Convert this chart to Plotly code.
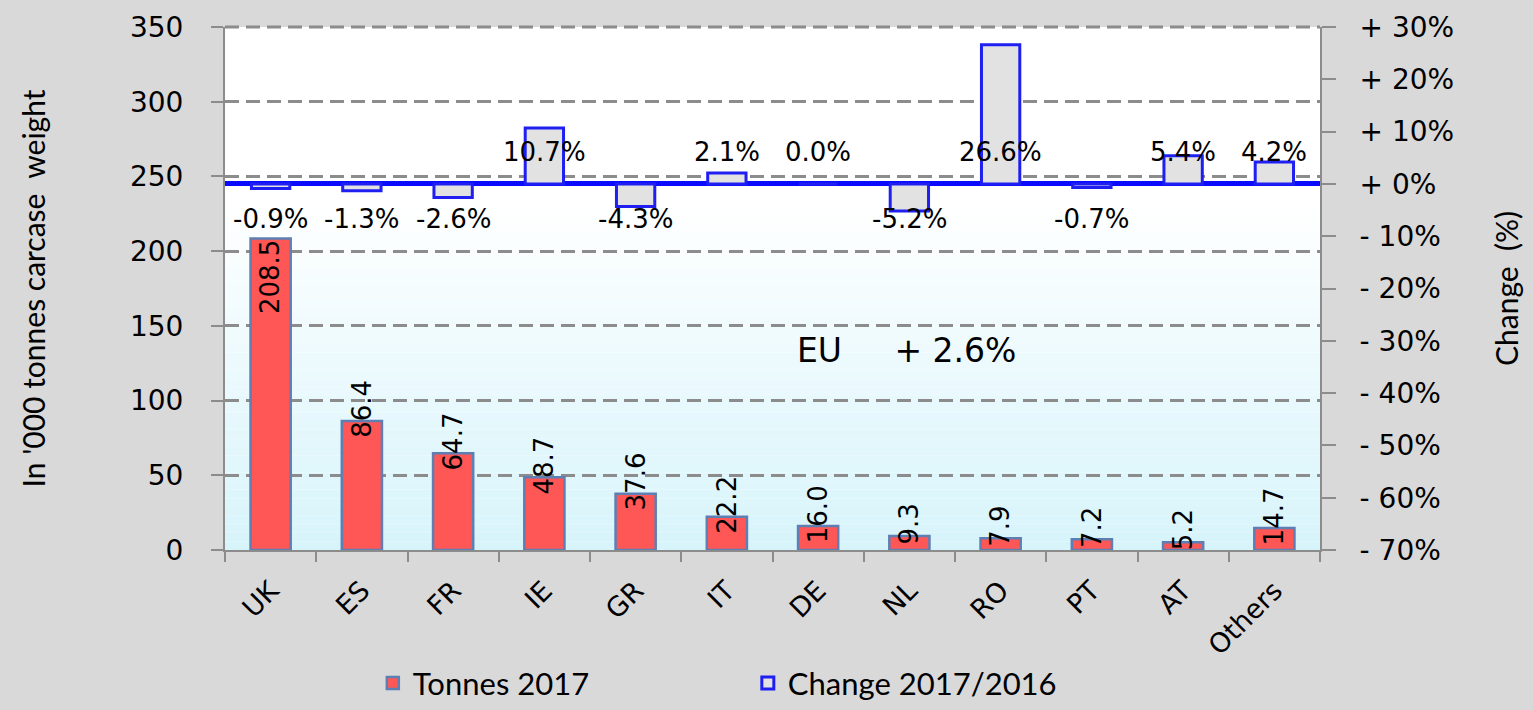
import plotly.graph_objects as go

# ---- data ----
countries = ["UK", "ES", "FR", "IE", "GR", "IT", "DE", "NL", "RO", "PT", "AT", "Others"]
tonnes_2017 = [208.5, 86.4, 64.7, 48.7, 37.6, 22.2, 16.0, 9.3, 7.9, 7.2, 5.2, 14.7]
change_pct = [-0.9, -1.3, -2.6, 10.7, -4.3, 2.1, 0.0, -5.2, 26.6, -0.7, 5.4, 4.2]
eu_label = "EU"
eu_change = 2.6
left_ticks = [0, 50, 100, 150, 200, 250, 300, 350]
right_ticks = [30, 20, 10, 0, -10, -20, -30, -40, -50, -60, -70]

def fmt_right(v):
    return f"+ {v}%" if v >= 0 else f"- {abs(v)}%"

right_ticktext = [fmt_right(v) for v in right_ticks]

FONT = "DejaVu Sans"
TITLE_FONT = "Lato"
GRID = "#8c8c8c"

fig = go.Figure()

fig.add_trace(go.Bar(
    x=countries, y=tonnes_2017, name="Tonnes 2017", yaxis="y",
    width=0.44,
    marker=dict(color="#ff5656", line=dict(color="#5d7fb3", width=2.5)),
    hoverinfo="x+y",
))
fig.add_trace(go.Bar(
    x=countries, y=change_pct, name="Change 2017/2016", yaxis="y2",
    width=0.42,
    marker=dict(color="#e2e2e2", line=dict(color="#1f1ff2", width=3)),
    hoverinfo="x+y",
))

annotations = []
# tonnes labels (rotated)
for c, v in zip(countries, tonnes_2017):
    if v > 150:
        annotations.append(dict(x=c, y=v, xref="x", yref="y", text=f"{v:.1f}",
                                 textangle=-90, showarrow=False, yanchor="top", yshift=0,
                                 font=dict(family=FONT, size=26, color="#000")))
    else:
        annotations.append(dict(x=c, y=v, xref="x", yref="y", text=f"{v:.1f}",
                                 textangle=-90, showarrow=False, yanchor="middle", yshift=12,
                                 font=dict(family=FONT, size=26, color="#000")))
# change labels
for c, v in zip(countries, change_pct):
    annotations.append(dict(x=c, y=0, xref="x", yref="y2", text=f"{v:.1f}%",
                             showarrow=False, yanchor="middle",
                             yshift=32 if v >= 0 else -35,
                             font=dict(family=FONT, size=26, color="#000")))
# EU total
annotations.append(dict(x=0.622, y=0.382, xref="paper", yref="paper",
                        text=f"{eu_label}" + "&nbsp;" * 5 + f"+ {eu_change}%", showarrow=False,
                        font=dict(family=FONT, size=33, color="#000")))

# gradient plot background (style only)
shapes = []
n = 40
top_c = (255, 255, 255)
bot_c = (214, 244, 251)
g_top = 230.0
for i in range(n):
    y0 = g_top * i / n
    y1 = g_top * (i + 1) / n
    t = 1 - (i + 0.5) / n
    col = tuple(round(top_c[k] + (bot_c[k] - top_c[k]) * t) for k in range(3))
    shapes.append(dict(type="rect", xref="paper", yref="y", x0=0, x1=1, y0=y0, y1=y1,
                       fillcolor=f"rgb{col}", line=dict(width=0), layer="below"))
# top dashed border (gridline at the top of the range)
shapes.append(dict(type="line", xref="paper", yref="paper", x0=0, x1=1, y0=1, y1=1,
                   line=dict(color=GRID, width=3, dash="14px,7px"), layer="below"))

fig.update_layout(
    width=1533, height=710,
    margin=dict(l=225, r=213, t=27, b=160, autoexpand=False),
    paper_bgcolor="#d9d9d9",
    plot_bgcolor="#ffffff",
    barmode="overlay",
    showlegend=True,
    legend=dict(orientation="h", x=0.135, y=-0.255, xanchor="left", yanchor="middle",
                font=dict(family=TITLE_FONT, size=31, color="#000"),
                bgcolor="rgba(0,0,0,0)", itemwidth=30, entrywidth=330,
                tracegroupgap=0),
    xaxis=dict(
        type="category", range=[-0.5, 11.5], automargin=False,
        tickangle=-45, tickfont=dict(family=FONT, size=27, color="#000"),
        showline=True, linecolor=GRID, linewidth=2,
        ticks="outside", ticklen=10, tickcolor=GRID, tickwidth=2,
        tickson="boundaries", showgrid=False, ticklabelstandoff=12,
    ),
    yaxis=dict(
        range=[0, 350], tickvals=left_ticks, automargin=False,
        tickfont=dict(family=FONT, size=28, color="#000"),
        showline=True, linecolor=GRID, linewidth=2,
        ticks="outside", ticklen=12, tickcolor=GRID, tickwidth=2,
        ticklabelstandoff=22,
        showgrid=True, gridcolor=GRID, gridwidth=3, griddash="14px,7px",
        zeroline=False,
        title=dict(text="In '000 tonnes carcase  weight",
                   font=dict(family=TITLE_FONT, size=30, color="#000"), standoff=75),
    ),
    yaxis2=dict(
        overlaying="y", side="right", range=[-70, 30], automargin=False,
        tickvals=right_ticks, ticktext=right_ticktext,
        tickfont=dict(family=FONT, size=28, color="#000"),
        showline=True, linecolor=GRID, linewidth=2,
        ticks="outside", ticklen=14, tickcolor=GRID, tickwidth=2,
        ticklabelstandoff=18,
        showgrid=False,
        zeroline=True, zerolinecolor="#0a0aff", zerolinewidth=5,
        title=dict(text="Change  (%)", font=dict(family=TITLE_FONT, size=30, color="#000"),
                   standoff=44),
    ),
    annotations=annotations,
    shapes=shapes,
)

fig.write_html("out.html", config={"displayModeBar": False},
               post_script="document.body.style.margin='0px';document.body.style.background='#d9d9d9';")
